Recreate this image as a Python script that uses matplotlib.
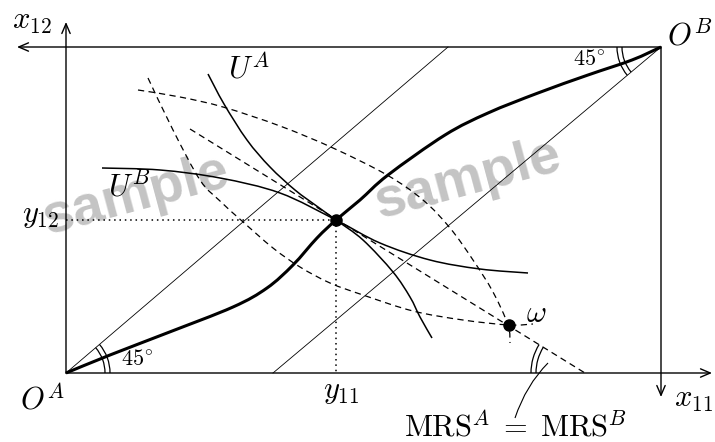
import numpy as np
import matplotlib
matplotlib.use("Agg")
import matplotlib.pyplot as plt
from matplotlib.path import Path
from matplotlib.patches import PathPatch, Arc

plt.rcParams["mathtext.fontset"] = "cm"

# all coordinates (pixels, y downwards)
origin_a = (66, 373)
origin_b = (661, 47)
equilibrium = (336, 220)
endowment = (509, 325)

contract_curve = [(66, 373), (110, 355), (167, 333), (233, 307), (267, 288),
                  (293, 265), (317, 238), (336, 220), (360, 200), (388, 175),
                  (445, 135), (488, 113), (538, 93), (588, 75), (632, 60),
                  (661, 47)]
u_a = [(208, 74), (224, 104), (247, 140), (270, 167), (295, 190), (318, 207),
       (336, 220), (363, 240), (393, 272), (410, 297), (420, 317), (432, 338)]
u_b = [(102, 168), (160, 170), (220, 178), (280, 193), (336, 220),
       (380, 243), (430, 260), (480, 269), (528, 273)]
omega_a = [(148, 78), (173, 130), (200, 180), (220, 201), (242, 221),
           (273, 248), (300, 267), (330, 283), (363, 295), (413, 311),
           (463, 320), (509, 325), (533, 324)]
omega_b = [(138, 90), (180, 97), (223, 107), (280, 126), (333, 148),
           (387, 175), (423, 200), (450, 228), (473, 260), (493, 292),
           (508, 325), (510, 343)]
mrs_line = [(190, 129), (585, 373)]
diag_a = [(66, 373), (448, 47)]
diag_b = [(273, 373), (661, 47)]


def smooth_path(pts):
    pts = np.asarray(pts, float)
    n = len(pts)
    verts, codes = [pts[0]], [Path.MOVETO]
    for i in range(n - 1):
        p0 = pts[i - 1] if i > 0 else pts[i]
        p1, p2 = pts[i], pts[i + 1]
        p3 = pts[i + 2] if i + 2 < n else pts[i + 1]
        verts += [p1 + (p2 - p0) / 6, p2 - (p3 - p1) / 6, p2]
        codes += [Path.CURVE4] * 3
    return Path(verts, codes)


def curve(ax, pts, **kw):
    ax.add_patch(PathPatch(smooth_path(pts), fill=False, capstyle="butt", **kw))


def arrow(ax, start, tip):
    ax.annotate("", xy=tip, xytext=start,
                arrowprops=dict(arrowstyle="->,head_length=0.7,head_width=0.3",
                                lw=1.0, color="black", shrinkA=0, shrinkB=0))


fig = plt.figure(figsize=(7.15, 4.42), dpi=100)
ax = fig.add_axes([0, 0, 1, 1])
ax.set_xlim(0, 715)
ax.set_ylim(442, 0)
ax.axis("off")

# watermark
for xy in [(136, 196), (468, 180)]:
    ax.text(*xy, "sample", fontsize=40, fontweight="bold", family="Liberation Sans",
            color="#c4c4c4", rotation=15, ha="center", va="center", zorder=0)

# box / axes
arrow(ax, origin_a, (66, 22))
arrow(ax, origin_a, (712, 373))
arrow(ax, origin_b, (17, 47))
arrow(ax, origin_b, (661, 397))

# 45 degree lines
for seg in (diag_a, diag_b):
    xs, ys = zip(*seg)
    ax.plot(xs, ys, color="black", lw=0.6)

# dashed curves
dash = dict(color="black", lw=0.9, linestyle=(0, (5, 3.5)))
curve(ax, omega_a, **dash)
curve(ax, omega_b, **dash)
xs, ys = zip(*mrs_line)
ax.plot(xs, ys, **dash)

# indifference curves
curve(ax, u_a, color="black", lw=1.1)
curve(ax, u_b, color="black", lw=1.1)

# contract curve
curve(ax, contract_curve, color="black", lw=2.2)

# dotted guides
ax.plot([66, equilibrium[0]], [equilibrium[1]] * 2, color="black", lw=1.1,
        linestyle=(0, (1, 2.5)))
ax.plot([equilibrium[0]] * 2, [equilibrium[1], 373], color="black", lw=1.1,
        linestyle=(0, (1, 2.5)))

ax.plot(*equilibrium, "o", color="black", ms=8)
ax.plot(*endowment, "o", color="black", ms=8)

# angle marks
for r in (39, 44):
    ax.add_patch(Arc(origin_a, 2 * r, 2 * r, theta1=-40.5, theta2=0, lw=0.9))
    ax.add_patch(Arc(origin_b, 2 * r, 2 * r, theta1=140, theta2=180, lw=0.9))
for r in (49, 54):
    ax.add_patch(Arc((585, 373), 2 * r, 2 * r, theta1=180, theta2=211.8, lw=0.9))

# leader to MRS label
leader = Path([(548, 363), (526, 385), (515, 418)], [Path.MOVETO, Path.CURVE3, Path.CURVE3])
ax.add_patch(PathPatch(leader, fill=False, lw=0.8))

fs = 22
ax.text(32, 21, r"$x_{12}$", fontsize=fs, ha="center", va="center")
ax.text(690, 36, r"$O^B$", fontsize=fs, ha="center", va="center")
ax.text(42, 400, r"$O^A$", fontsize=fs, ha="center", va="center")
ax.text(341, 391, r"$y_{11}$", fontsize=fs, ha="center", va="center")
ax.text(694, 399, r"$x_{11}$", fontsize=fs, ha="center", va="center")
ax.text(41, 215, r"$y_{12}$", fontsize=fs, ha="center", va="center")
ax.text(536, 313, r"$\omega$", fontsize=fs, ha="center", va="center")
ax.text(249, 69, r"$U^A$", fontsize=fs, ha="center", va="center")
ax.text(129, 187, r"$U^B$", fontsize=fs, ha="center", va="center")
ax.text(137, 359, r"$45^{\!\circ}$", fontsize=16, ha="center", va="center")
ax.text(589, 59, r"$45^{\!\circ}$", fontsize=16, ha="center", va="center")
ax.text(516, 427, r"$\mathrm{MRS}^A \;=\; \mathrm{MRS}^B$", fontsize=fs,
        ha="center", va="center")

fig.savefig("out.png", dpi=100)
